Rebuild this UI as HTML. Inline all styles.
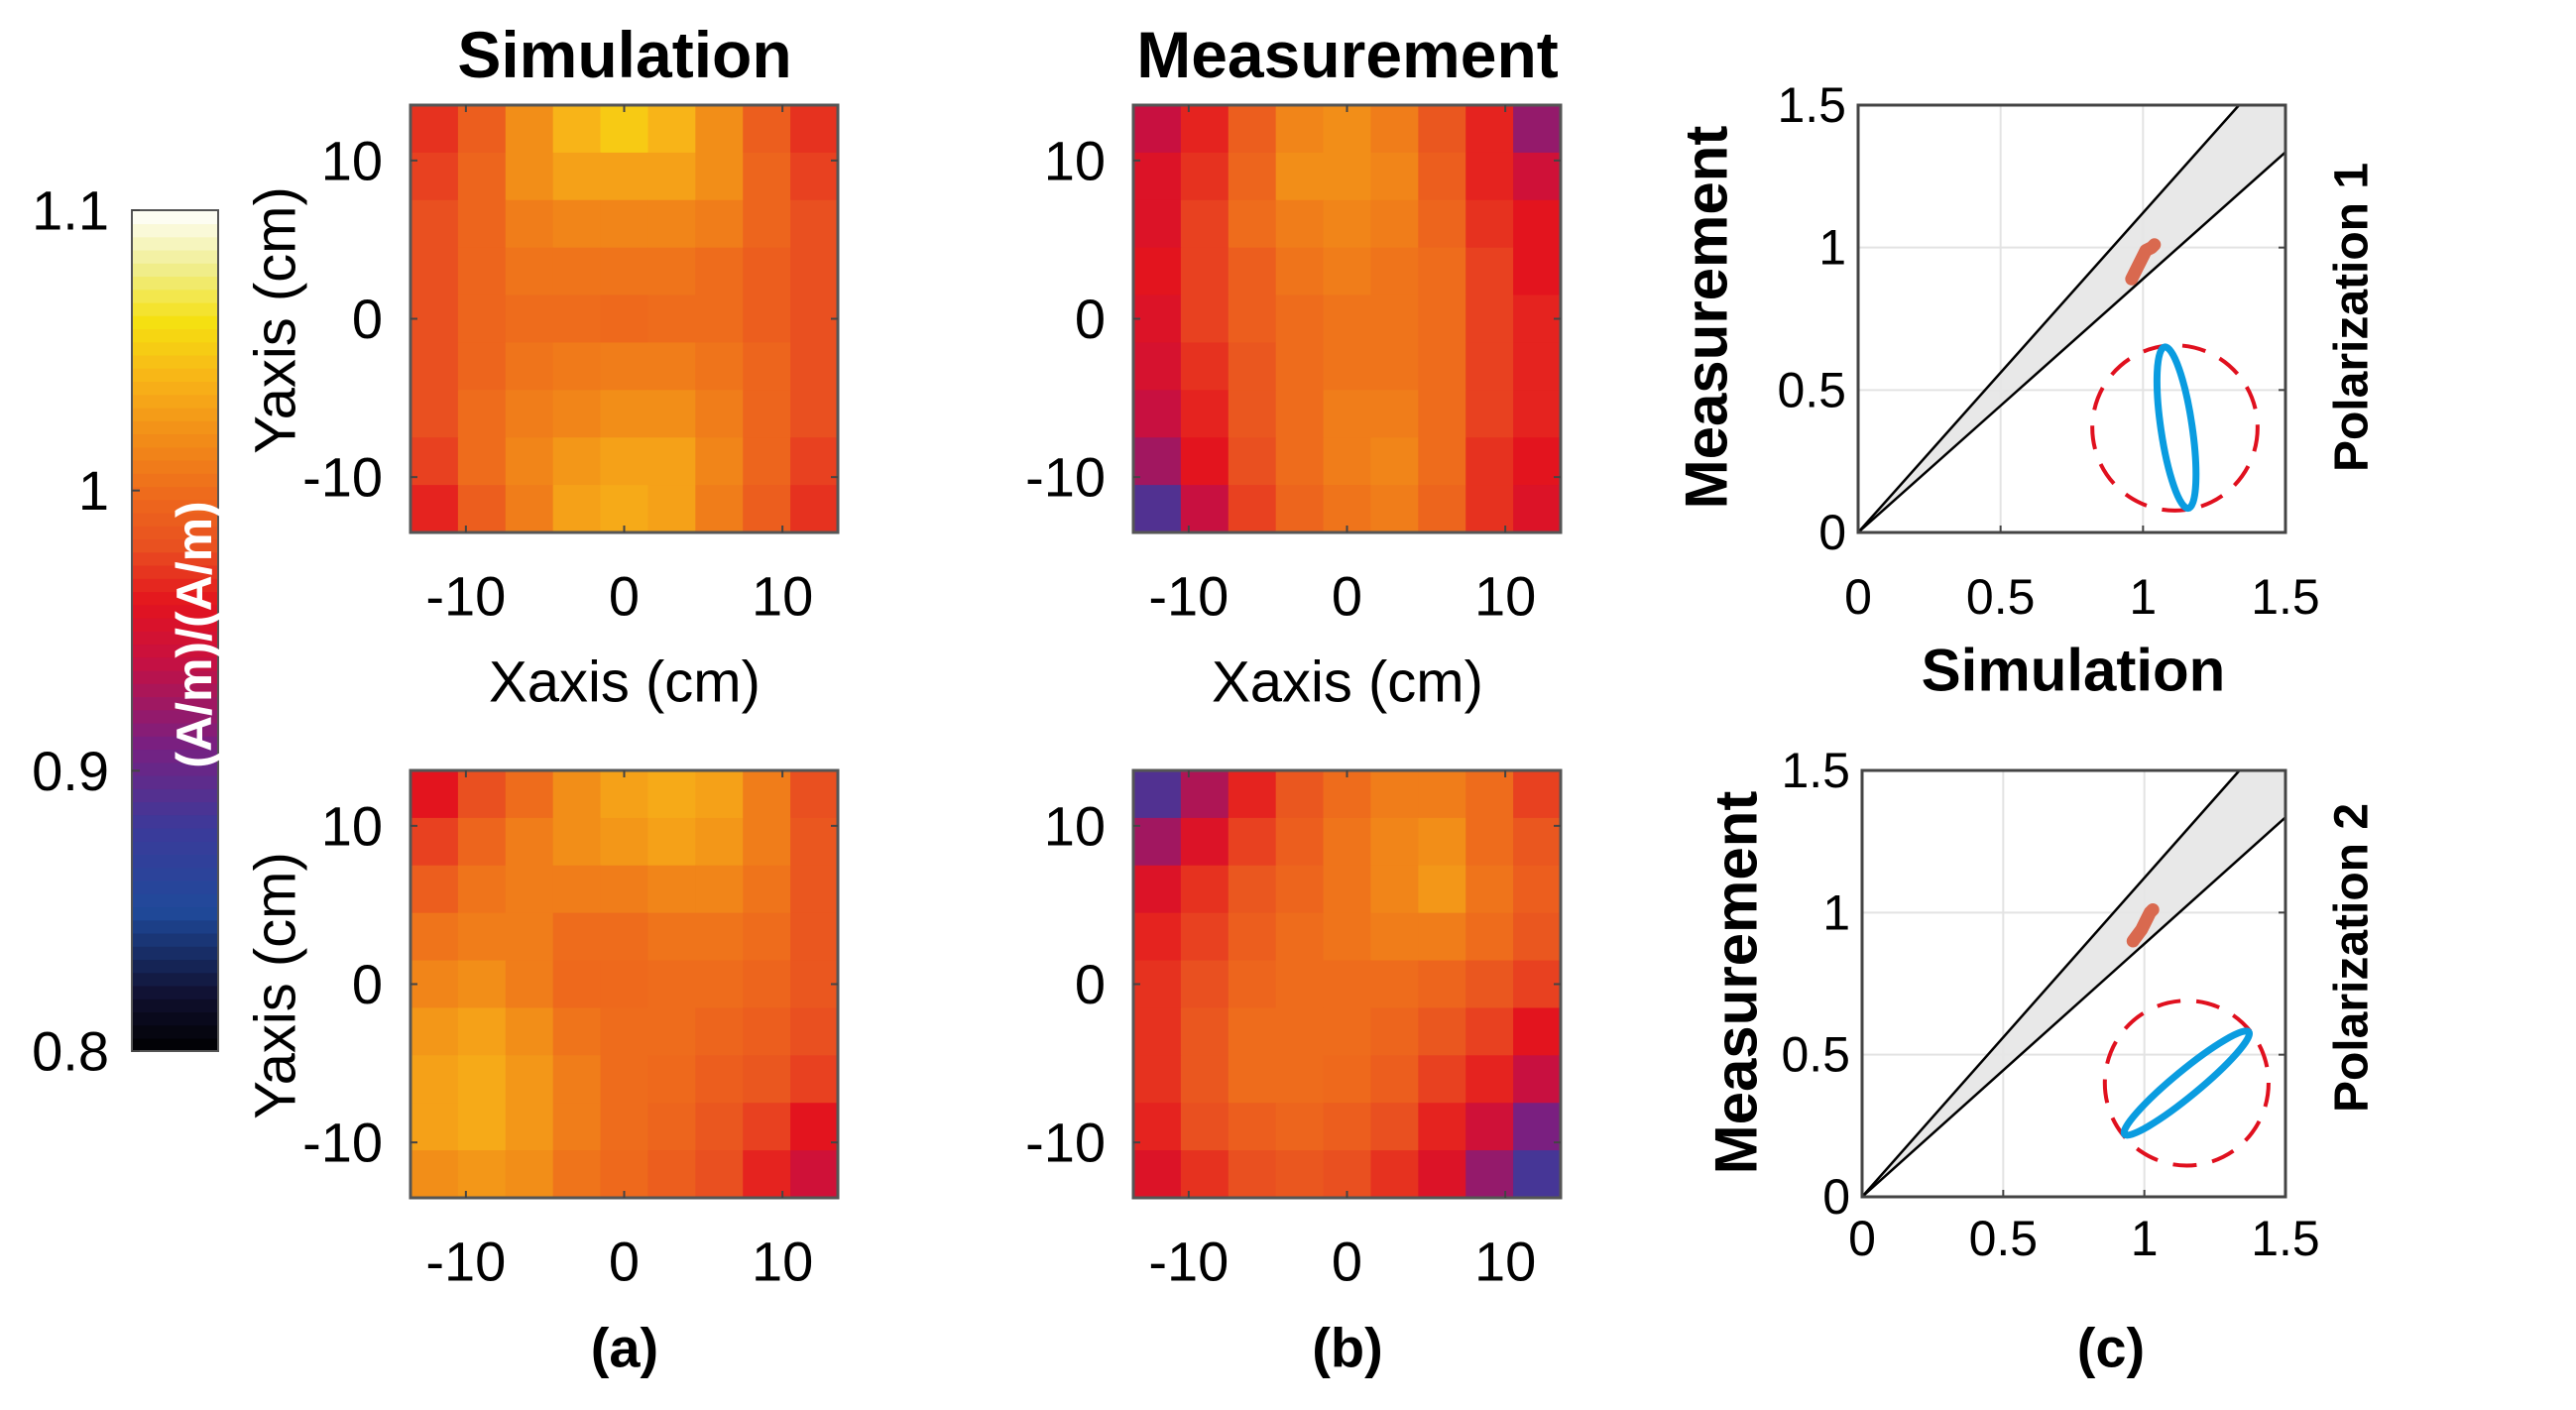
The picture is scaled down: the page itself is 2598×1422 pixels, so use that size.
<!DOCTYPE html>
<html><head><meta charset="utf-8"><style>
html,body{margin:0;padding:0;background:#fff;}
svg text{font-family:"Liberation Sans",Arial,sans-serif;}
</style></head><body>
<svg id="fig" xmlns="http://www.w3.org/2000/svg" width="2598" height="1417" viewBox="0 0 2598 1417">
<rect width="2598" height="1417" fill="#fff"/>
<g id="root"></g>
</svg>
<script>
// ---- data ----
const cmapValues = [0.80,0.82,0.85,0.88,0.91,0.94,0.96,0.98,1.00,1.02,1.04,1.06,1.08,1.10];
const cmapColors = ['#000000','#101030','#1f4a9a','#3c3a9a','#7a1f80','#c81040','#e3141e','#e95020','#ee6c1c','#f28e18','#f8b418','#f5e010','#f0ee90','#ffffff'];
const colorbarTicks = [0.8,0.9,1.0,1.1];
const colorbarTickLabels = ['0.8','0.9','1','1.1'];
const heatTicks = [-10,0,10];
const heatTickLabels = ['-10','0','10'];
const scatterTicks = [0,0.5,1,1.5];
const scatterTickLabels = ['0','0.5','1','1.5'];
const simTop = [
[.97,.99,1.02,1.04,1.05,1.04,1.02,.99,.97],
[.975,.995,1.02,1.03,1.03,1.03,1.02,.995,.975],
[.98,.995,1.01,1.015,1.015,1.015,1.01,.995,.98],
[.98,.995,1.005,1.005,1.005,1.005,1.0,.99,.98],
[.98,.995,1.0,1.0,.998,1.0,1.0,.99,.98],
[.98,.995,1.005,1.008,1.01,1.01,1.005,.995,.98],
[.98,1.0,1.01,1.015,1.02,1.02,1.01,.995,.98],
[.975,1.0,1.015,1.025,1.03,1.03,1.015,.995,.975],
[.965,.99,1.01,1.03,1.035,1.03,1.01,.99,.97]];
const measTop = [
[.94,.965,.99,1.015,1.02,1.01,.985,.965,.92],
[.955,.97,.995,1.02,1.02,1.015,.99,.965,.945],
[.955,.975,1.0,1.01,1.015,1.01,.995,.97,.96],
[.96,.975,.99,1.005,1.01,1.005,1.0,.975,.96],
[.955,.975,.99,1.0,1.005,1.005,1.0,.975,.965],
[.95,.97,.985,1.0,1.005,1.005,1.0,.975,.965],
[.94,.965,.985,1.0,1.01,1.01,1.0,.975,.965],
[.925,.96,.98,1.0,1.01,1.015,1.0,.97,.96],
[.89,.94,.975,.995,1.005,1.01,.995,.97,.955]];
const simBottom = [
[.96,.98,1.0,1.02,1.03,1.035,1.03,1.01,.98],
[.975,.995,1.01,1.02,1.025,1.03,1.025,1.01,.985],
[.99,1.005,1.01,1.01,1.01,1.015,1.015,1.005,.985],
[1.005,1.01,1.01,1.0,1.0,1.005,1.005,1.0,.985],
[1.015,1.02,1.01,.998,.998,1.0,1.0,.995,.985],
[1.025,1.03,1.02,1.005,1.0,1.0,.995,.99,.98],
[1.03,1.035,1.025,1.01,1.0,.998,.99,.985,.975],
[1.03,1.035,1.025,1.01,1.0,.995,.985,.975,.96],
[1.02,1.025,1.02,1.005,.998,.99,.98,.965,.945]];
const measBottom = [
[.89,.93,.965,.985,1.0,1.01,1.01,1.0,.975],
[.925,.955,.975,.99,1.005,1.015,1.02,1.0,.985],
[.955,.97,.985,.995,1.005,1.015,1.025,1.005,.99],
[.965,.975,.99,1.0,1.005,1.01,1.01,1.0,.985],
[.97,.98,.995,1.0,1.0,1.0,.995,.985,.975],
[.97,.985,1.0,1.0,1.0,.995,.985,.975,.96],
[.97,.985,1.0,1.0,.998,.99,.975,.965,.94],
[.965,.98,.99,.995,.99,.98,.965,.945,.91],
[.955,.97,.98,.985,.98,.97,.955,.92,.885]];
const bandSlopes = [1.122,0.89];
const blob1Sim = [0.96,0.97,0.98,0.99,1.0,1.01,1.03,1.04];
const blob1Meas = [0.89,0.91,0.93,0.95,0.97,0.99,1.0,1.01];
const blob2Sim = [0.96,0.975,0.99,1.0,1.01,1.02,1.03];
const blob2Meas = [0.90,0.92,0.94,0.96,0.98,1.0,1.01];
const ellipse1 = [1.076,0.651,1.159,0.085,0.055];
const ellipse2 = [0.93,0.22,1.37,0.58,0.045];
const circle1 = [1.112,0.367,0.29];
const circle2 = [1.15,0.40,0.29];

// ---- helpers ----
const NS='http://www.w3.org/2000/svg';
const root=document.getElementById('root');
function mk(tag,attrs,parent){const e=document.createElementNS(NS,tag);for(const k in attrs)e.setAttribute(k,attrs[k]);(parent||root).appendChild(e);return e;}
function hex(h){return [parseInt(h.slice(1,3),16),parseInt(h.slice(3,5),16),parseInt(h.slice(5,7),16)];}
function cmap(v){
  if(v<=cmapValues[0])return cmapColors[0];
  for(let i=1;i<cmapValues.length;i++){if(v<=cmapValues[i]){const t=(v-cmapValues[i-1])/(cmapValues[i]-cmapValues[i-1]);const a=hex(cmapColors[i-1]),b=hex(cmapColors[i]);return 'rgb('+a.map((c,j)=>Math.round(c+(b[j]-c)*t)).join(',')+')';}}
  return cmapColors[cmapColors.length-1];
}
function txt(s,x,y,size,opts,name){const t=mk('text',Object.assign({x:x,y:y,'font-size':size,'text-anchor':'middle','dominant-baseline':'central'},opts||{}));t.textContent=s;return t;}

// ---- colorbar ----
const cb={x:133,y:212,w:87,h:848};
const cbY=v=>cb.y+(1.1-v)/0.3*cb.h;
const cbg=mk('g',{});


for(let i=0;i<64;i++){const v=0.8+(i+0.5)*0.3/64;const r=mk('rect',{x:cb.x,y:cbY(0.8+(i+1)*0.3/64),width:cb.w,height:cb.h/64+0.8,fill:cmap(v)},cbg);}
mk('rect',{x:cb.x,y:cb.y,width:cb.w,height:cb.h,fill:'none',stroke:'#555','stroke-width':2},cbg);
colorbarTicks.forEach((v,i)=>{mk('line',{x1:cb.x,x2:cb.x+8,y1:cbY(v),y2:cbY(v),stroke:'#444','stroke-width':2},cbg);txt(colorbarTickLabels[i],110,cbY(v),56,{'text-anchor':'end'},'colorbar-tick-label');});
txt('(A/m)/(A/m)',0,0,50,{fill:'#fff','font-weight':'bold',transform:'translate(196,640) rotate(-90)'},'colorbar-label');

// ---- heatmaps ----
function heatmap(data,x0,y0,name){
  const W=431,H=431,lim=13.5;
  const sx=v=>x0+(v+lim)/(2*lim)*W, sy=v=>y0+(lim-v)/(2*lim)*H;
  const g=mk('g',{});
  const n=data.length,m=data[0].length;
  data.forEach((row,r)=>row.forEach((v,c)=>{const rc=mk('rect',{x:x0+c*W/m,y:y0+r*H/n,width:W/m+0.6,height:H/n+0.6,fill:cmap(v)},g);}));
  mk('rect',{x:x0,y:y0,width:W,height:H,fill:'none',stroke:'#555','stroke-width':3},g);
  heatTicks.forEach((t,i)=>{
    mk('line',{x1:sx(t),x2:sx(t),y1:y0+H,y2:y0+H-7,stroke:'#444','stroke-width':2},g);
    mk('line',{x1:sx(t),x2:sx(t),y1:y0,y2:y0+7,stroke:'#444','stroke-width':2},g);
    mk('line',{x1:x0,x2:x0+7,y1:sy(t),y2:sy(t),stroke:'#444','stroke-width':2},g);
    mk('line',{x1:x0+W,x2:x0+W-7,y1:sy(t),y2:sy(t),stroke:'#444','stroke-width':2},g);
    txt(heatTickLabels[i],sx(t),y0+H+64,56,{},'x-tick-label');
    txt(heatTickLabels[i],x0-28,sy(t),56,{'text-anchor':'end'},'y-tick-label');
  });
}
heatmap(simTop,414,106,'sim-heatmap-pol1');
heatmap(measTop,1143,106,'meas-heatmap-pol1');
heatmap(simBottom,414,777,'sim-heatmap-pol2');
heatmap(measBottom,1143,777,'meas-heatmap-pol2');
txt('Simulation',630,55,66,{'font-weight':'bold'},'title-simulation');
txt('Measurement',1359,55,66,{'font-weight':'bold'},'title-measurement');
txt('Xaxis (cm)',630,688,58,{},'x-axis-title');
txt('Xaxis (cm)',1359,688,58,{},'x-axis-title');
txt('Yaxis (cm)',0,0,58,{transform:'translate(278,323) rotate(-90)'},'y-axis-title');
txt('Yaxis (cm)',0,0,58,{transform:'translate(278,994) rotate(-90)'},'y-axis-title');
txt('(a)',630,1359,56,{'font-weight':'bold'},'panel-label-a');
txt('(b)',1359,1359,56,{'font-weight':'bold'},'panel-label-b');
txt('(c)',2129,1359,56,{'font-weight':'bold'},'panel-label-c');

// ---- scatter ----
function scatter(x0,y0,W,H,bs,bm,ell,circ,name,xtY){
  const sx=v=>x0+v/1.5*W, sy=v=>y0+H-v/1.5*H;
  const g=mk('g',{});
  mk('rect',{x:x0,y:y0,width:W,height:H,fill:'#fff'},g);
  const cp='clip'+name;const cl=mk('clipPath',{id:cp},g);mk('rect',{x:x0,y:y0,width:W,height:H},cl);
  [0.5,1].forEach(t=>{mk('line',{x1:sx(t),x2:sx(t),y1:y0,y2:y0+H,stroke:'#e3e3e3','stroke-width':2},g);mk('line',{x1:x0,x2:x0+W,y1:sy(t),y2:sy(t),stroke:'#e3e3e3','stroke-width':2},g);});
  const up=bandSlopes[0],lo=bandSlopes[1];
  const band=mk('polygon',{points:[[sx(0),sy(0)],[sx(1.5/up),sy(1.5)],[sx(1.5),sy(1.5)],[sx(1.5),sy(1.5*lo)]].map(p=>p.join(',')).join(' '),fill:'#e6e6e6','fill-opacity':0.9,'clip-path':'url(#'+cp+')'},g);
  
  const l1=mk('line',{x1:sx(0),y1:sy(0),x2:sx(1.5/up),y2:sy(1.5),stroke:'#000','stroke-width':2.5},g);
  const l2=mk('line',{x1:sx(0),y1:sy(0),x2:sx(1.5),y2:sy(1.5*lo),stroke:'#000','stroke-width':2.5},g);
  const pb=mk('polyline',{points:bs.map((v,i)=>sx(v)+','+sy(bm[i])).join(' '),fill:'none',stroke:'#d9694f','stroke-width':13,'stroke-linecap':'round','stroke-linejoin':'round'},g);
  
  const c=mk('ellipse',{cx:sx(circ[0]),cy:sy(circ[1]),rx:circ[2]/1.5*W,ry:circ[2]/1.5*H,fill:'none',stroke:'#e0101e','stroke-width':4,'stroke-dasharray':'24,16'},g);
  
  const ax1=sx(ell[0]),ay1=sy(ell[1]),ax2=sx(ell[2]),ay2=sy(ell[3]);
  const len=Math.hypot(ax2-ax1,ay2-ay1)/2,ang=Math.atan2(ay2-ay1,ax2-ax1)*180/Math.PI;
  const e=mk('ellipse',{cx:(ax1+ax2)/2,cy:(ay1+ay2)/2,rx:len,ry:ell[4]/1.5*W,fill:'none',stroke:'#0a9ce0','stroke-width':7,transform:'rotate('+ang+' '+(ax1+ax2)/2+' '+(ay1+ay2)/2+')'},g);
  
  mk('rect',{x:x0,y:y0,width:W,height:H,fill:'none',stroke:'#444','stroke-width':3},g);
  scatterTicks.forEach((t,i)=>{
    mk('line',{x1:sx(t),x2:sx(t),y1:y0+H,y2:y0+H-7,stroke:'#444','stroke-width':2},g);
    mk('line',{x1:x0+W,x2:x0+W-7,y1:sy(t),y2:sy(t),stroke:'#444','stroke-width':2},g);
    txt(scatterTickLabels[i],sx(t),xtY,50,{},'x-tick-label');
    txt(scatterTickLabels[i],x0-12,sy(t),50,{'text-anchor':'end'},'y-tick-label');
  });
}
scatter(1874,106,431,431,blob1Sim,blob1Meas,ellipse1,circle1,'scatter-pol1',602);
scatter(1878,777,427,430,blob2Sim,blob2Meas,ellipse2,circle2,'scatter-pol2',1249);
txt('Simulation',2091,676,60,{'font-weight':'bold'},'scatter-x-axis-title');
txt('Measurement',0,0,60,{'font-weight':'bold',transform:'translate(1721,320) rotate(-90)'},'scatter-y-axis-title');
txt('Measurement',0,0,60,{'font-weight':'bold',transform:'translate(1751,991) rotate(-90)'},'scatter-y-axis-title');
txt('Polarization 1',0,0,48,{'font-weight':'bold',transform:'translate(2372,320) rotate(-90)'},'polarization-1-label');
txt('Polarization 2',0,0,48,{'font-weight':'bold',transform:'translate(2372,966) rotate(-90)'},'polarization-2-label');
</script>
</body></html>
